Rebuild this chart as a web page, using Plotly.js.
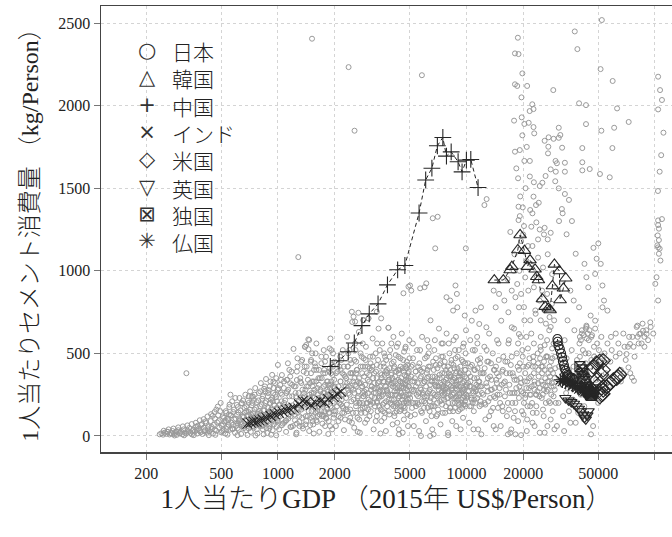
<!DOCTYPE html>
<html>
<head>
<meta charset="utf-8">
<script src="https://cdn.plot.ly/plotly-3.0.1.min.js"></script>
<style>html,body{margin:0;padding:0;background:#fff;}</style>
</head>
<body>
<div id="chart" style="width:672px;height:537px;"></div>
<script>
// ---- tick labels ----
const xTickVals = [200, 500, 1000, 2000, 5000, 10000, 20000, 50000, 100000];
const xTickText = ['200', '500', '1000', '2000', '5000', '10000', '20000', '50000', ''];
const yTickVals = [0, 500, 1000, 1500, 2000, 2500];

// ---- background: all countries/years, [GDP per capita, cement kg per capita] ----
const bgLowIncome = [
[236,10],[241,16],[246,8],[251,20],[256,13],[261,25],[266,9],[271,18],[276,30],[281,12],[286,22],[291,7],[296,35],[301,16],[306,27],[311,10],[316,40],[321,20],[326,14],[332,32],[338,48],[344,18],[350,9],[356,38],[362,26],[368,55],[374,15],[380,44],[386,30],[392,66],[398,12],[404,50],[410,35],[416,78],[422,20],[428,58],[434,28],[440,90],[446,42],[452,15],[458,68],[464,105],[470,32],[476,82],[482,125],[488,50],[494,150],[500,22],
[248,32],[263,40],[279,45],[296,52],[313,58],[331,64],[349,72],[367,80],[385,95],[404,102],[423,118],[442,132],[461,145],[480,178],[497,200],[471,160],[451,122],[413,88],[395,72],[375,62],[358,5],[318,4],[283,3],[430,5],[466,7],[327,380],
[258,26],[273,14],[289,28],[303,20],[336,24],[352,30],[371,35],[389,22],[408,28],[426,40],[445,55],[463,38],[485,90]
];
const bgLowerMiddle = [
[505,30],[512,72],[518,110],[526,15],[532,140],[538,55],[545,95],[552,175],[558,38],[565,125],[572,210],[578,68],[585,160],[592,20],[598,105],[605,188],[612,48],[618,142],[625,230],[632,82],[638,12],[645,198],[652,120],[658,60],[665,170],[672,250],[678,35],[685,98],[692,215],[698,145],[705,72],[712,270],[718,25],[725,185],[732,118],[738,238],[745,50],[752,160],[758,290],[765,90],[772,205],[778,15],[785,135],[792,260],[798,62],[805,180],[812,320],[818,108],[825,225],[832,40],[838,155],[845,285],[852,80],[858,200],[865,345],[872,125],[878,18],[885,240],[892,170],[898,60],[905,300],[912,105],[918,220],[925,145],[932,370],[938,35],[945,260],[952,190],[958,88],[965,320],[972,130],[978,235],[985,55],[992,170],[998,280],[1000,430],[1007,289],
[640,198],[728,238],[745,218],[892,278],[947,329],[1028,309],[1050,369],[540,8],[610,5],[690,6],[760,3],[840,10],[920,8],[980,4],[560,250],[700,200],[780,110],[860,270],[960,150],[620,90],[720,130],[820,60],[880,140],[940,210],
[530,90],[575,40],[615,75],[660,115],[700,45],[740,85],[790,70],[830,95],[870,48],[915,75],[955,120],[990,95],[550,130],[680,150],[810,140],[900,110],
[503,62],[509,118],[516,35],[521,88],[529,150],[535,42],[541,105],[548,68],[554,190],[561,125],[567,80],[574,45],[580,145],[587,100],[594,230],[600,62],[607,128],[613,175],[620,38],[627,95],[633,155],[640,72],[647,118],[653,215],[660,48],[667,140],[673,92],[680,180],[687,60],[693,125],[700,240],[707,85],[713,160],[720,110],[727,55],[733,200],[740,138],[747,78],[753,250],[760,120],[767,170],[773,40],[780,92],[787,215],[793,150],[800,75],[807,270],[813,130],[820,190],[827,100],[833,240],[840,65],[847,155],[853,300],[860,115],[867,210],[873,88],[880,175],[887,260],[893,135],[900,45],[907,200],[913,330],[920,160],[927,95],[933,230],[940,130],[947,290],[953,70],[960,185],[967,250],[973,115],[980,350],[987,210],[993,145],[999,90]
];
const bgMiddle = [
[1015,40],[1030,120],[1045,210],[1060,75],[1075,290],[1090,160],[1105,25],[1120,340],[1135,105],[1150,240],[1165,55],[1180,390],[1195,185],[1210,527],[1225,130],[1240,300],[1255,20],[1270,420],[1285,210],[1300,85],[1315,350],[1330,160],[1345,460],[1360,45],[1375,260],[1390,540],[1405,120],[1420,380],[1435,200],[1450,585],[1465,30],[1480,320],[1495,450],[1510,150],[1525,240],[1540,70],[1555,400],[1570,180],[1585,500],[1600,95],[1620,290],[1640,350],[1660,25],[1680,220],[1700,440],[1720,130],[1740,380],[1760,260],[1780,60],[1800,480],[1820,170],[1840,330],[1860,90],[1880,410],[1900,230],[1920,520],[1940,40],[1960,300],[1980,150],[2000,450],
[1116,339],[1162,319],[1261,339],[1314,329],[1370,390],[1420,420],[1500,460],[1395,540],[1466,581],[1413,551],[1453,525],[1050,250],[1150,180],[1250,240],[1350,280],[1450,300],[1550,260],[1650,310],[1750,200],[1850,250],[1950,370],[1100,90],[1200,60],[1300,120],[1400,70],[1500,110],[1600,200],[1700,150],[1800,110],[1900,180],[1250,10],[1550,15],[1850,12],[1130,440],[1270,470],[1600,560],[1750,520],[1900,590],
[1080,200],[1180,140],[1280,170],[1380,190],[1480,230],[1580,140],[1680,270],[1780,310],[1880,140],[1980,260],[1120,270],[1320,230],[1520,330],[1720,240],[1920,330],
[1008,110],[1022,190],[1036,260],[1050,65],[1064,150],[1078,330],[1092,215],[1106,95],[1120,175],[1134,280],[1148,130],[1162,360],[1176,55],[1190,240],[1204,165],[1218,300],[1232,95],[1246,200],[1260,390],[1274,140],[1288,260],[1302,60],[1316,185],[1330,320],[1344,110],[1358,230],[1372,170],[1386,420],[1400,280],[1414,90],[1428,210],[1442,340],[1456,150],[1470,250],[1484,65],[1498,380],[1512,190],[1526,300],[1540,120],[1554,230],[1568,440],[1582,165],[1596,330],[1610,85],[1624,250],[1638,180],[1652,400],[1666,130],[1680,280],[1694,210],[1708,350],[1722,75],[1736,190],[1750,300],[1764,150],[1778,450],[1792,240],[1806,105],[1820,330],[1834,200],[1848,270],[1862,140],[1876,390],[1890,60],[1904,220],[1918,310],[1932,170],[1946,430],[1960,250],[1974,110],[1988,340],
[1040,340],[1110,260],[1190,310],[1290,160],[1380,240],[1470,180],[1560,280],[1650,230],[1740,260],[1830,160],[1920,260],[1080,80],[1170,120],[1260,75],[1350,60],[1440,120],[1530,90],[1620,150],[1710,120],[1800,200],[1890,290],[1980,200],[1060,180],[1240,260],[1420,300],[1600,400],[1780,380],[1960,500],[1150,400],[1330,450],[1520,500],[1700,480],[1880,530],
[1510,260],[1590,200],[1670,350],[1750,120],[1830,280],[1910,380],[1990,130],[1550,330],[1700,190],[1860,310],[1620,120],[1800,240],[1580,420],[1760,400],[1960,420]
];
const bgUpperMiddle = [
[2030,60],[2060,180],[2090,300],[2120,420],[2150,110],[2180,250],[2210,520],[2240,35],[2270,360],[2300,160],[2330,600],[2360,280],[2390,90],[2420,460],[2450,210],[2480,690],[2510,330],[2540,50],[2570,560],[2600,140],[2630,400],[2660,240],[2690,630],[2720,20],[2750,320],[2780,480],[2810,170],[2840,700],[2870,270],[2900,80],[2930,540],[2960,380],[2990,200],[3020,712],[3060,120],[3100,440],[3140,300],[3180,590],[3220,40],[3260,230],[3300,500],[3340,350],[3380,150],[3420,650],[3460,270],[3500,420],[3540,90],[3580,560],[3620,330],[3660,200],[3700,480],[3740,30],[3780,380],[3820,260],[3860,655],[3900,130],[3940,520],[3980,310],[4020,440],[4060,70],[4100,600],[4140,220],[4180,360],[4220,490],[4260,150],[4300,270],[4340,560],[4380,40],[4420,400],[4460,330],[4500,180],[4540,620],[4580,240],[4620,460],[4660,100],[4700,370],[4740,530],[4780,290],[4820,200],[4860,430],[4900,60],[4940,350],[4980,580],
[2467,752],[2673,746],[2519,722],[2568,692],[2842,702],[3025,712],[3349,752],[3530,712],[3858,655],[4634,864],[4928,904],[2200,380],[2400,330],[2600,450],[2800,380],[3000,260],[3200,350],[3400,460],[3600,250],[3800,180],[4000,380],[4200,290],[4400,240],[4600,320],[4800,410],[2300,230],[2500,140],[2700,100],[2900,310],[3100,190],[3300,90],[3500,280],[3700,140],[3900,410],[4100,180],[4300,80],[4500,290],[4700,150],[4900,250],[2100,240],[2250,140],[2550,260],[2850,240],[3150,400],[3450,330],[3750,300],[4050,250],[4350,340],[4650,390],[4950,200],[4390,10],[4590,20],[3500,15],[2650,25],
[2150,330],[2350,420],[2450,380],[2750,420],[3050,330],[3250,290],[3550,370],[3850,340],[4150,420],[4450,270],[4750,310],[2800,200],[3350,210],[3650,420],[4250,200],[4850,330],
[2020,150],[2045,280],[2070,390],[2095,90],[2120,200],[2145,330],[2170,460],[2195,140],[2220,250],[2245,370],[2270,100],[2295,300],[2320,190],[2345,420],[2370,260],[2395,520],[2420,160],[2445,290],[2470,80],[2495,380],[2520,220],[2545,460],[2570,310],[2595,180],[2620,400],[2645,110],[2670,270],[2695,350],[2720,200],[2745,500],[2770,140],[2795,300],[2820,420],[2845,240],[2870,360],[2895,170],[2920,460],[2945,280],[2970,100],[2995,340],[3030,220],[3070,410],[3110,150],[3150,300],[3190,480],[3230,260],[3270,180],[3310,390],[3350,120],[3390,320],[3430,230],[3470,520],[3510,160],[3550,350],[3590,270],[3630,440],[3670,110],[3710,300],[3750,210],[3790,400],[3830,330],[3870,150],[3910,480],[3950,250],[3990,370],[4030,190],[4070,300],[4110,450],[4150,120],[4190,330],[4230,250],[4270,540],[4310,190],[4350,400],[4390,300],[4430,150],[4470,470],[4510,350],[4550,220],[4590,410],[4630,290],[4670,510],[4710,170],[4750,320],[4790,250],[4830,450],[4870,130],[4910,380],[4950,300],[4990,470],
[2050,220],[2150,400],[2250,300],[2350,150],[2450,440],[2550,350],[2650,230],[2750,160],[2850,470],[2950,200],[3050,370],[3150,240],[3250,320],[3350,430],[3450,180],[3550,240],[3650,330],[3750,460],[3850,250],[3950,200],[4050,350],[4150,270],[4250,390],[4350,230],[4450,330],[4550,300],[4650,200],[4750,420],[4850,280],[4950,390],[2100,120],[2400,250],[2700,320],[3000,420],[3300,260],[3600,190],[3900,340],[4200,180],[4500,260],[4800,340],[2200,180],[2600,300],[3200,200],[3800,270],[4400,200],[4900,220],[2300,350],[2900,250],[3500,380],[4100,320],[4700,240],
[2080,270],[2160,190],[2240,420],[2330,320],[2420,110],[2510,280],[2600,380],[2700,200],[2800,300],[2900,420],[3010,160],[3120,280],[3240,380],[3360,200],[3480,300],[3610,150],[3740,390],[3880,220],[4020,320],[4170,140],[4320,290],[4480,420],[4640,180],[4810,360],[4990,250],
[2030,380],[2220,170],[2420,380],[2650,330],[2900,140],[3170,420],[3460,240],[3780,280],[4130,410],[4510,160],[4930,300],
[2000,300],[2180,220],[2380,300],[2600,200],[2830,260],[3090,210],[3370,290],[3680,370],[4010,220],[4380,380],[4780,210],
[2140,480],[2360,500],[2580,520],[2820,560],[3080,480],[3360,560],[3660,500],[4000,560],[4360,480],[4760,540]
];
const bgHighMiddle = [
[5050,120],[5120,280],[5190,430],[5260,60],[5330,350],[5400,180],[5470,520],[5540,240],[5610,30],[5680,400],[5750,150],[5820,600],[5890,320],[5960,210],[6030,470],[6100,90],[6170,380],[6240,260],[6310,540],[6380,150],[6450,700],[6520,330],[6590,40],[6660,450],[6730,220],[6800,580],[6870,300],[6940,120],[7010,410],[7080,250],[7150,650],[7220,350],[7290,70],[7360,480],[7430,190],[7500,560],[7570,290],[7640,420],[7710,140],[7780,340],[7850,620],[7920,230],[7990,20],[8060,380],[8130,500],[8200,170],[8270,300],[8340,440],[8410,90],[8480,250],[8550,580],[8620,350],[8690,200],[8760,470],[8830,60],[8900,310],[8970,410],[9040,150],[9110,520],[9180,260],[9250,380],[9320,40],[9390,200],[9460,460],[9530,320],[9600,110],[9670,560],[9740,240],[9810,400],[9880,180],[9950,640],[10050,300],[10200,440],[10350,80],[10500,360],[10650,220],[10800,520],[10950,150],[11100,400],[11250,280],[11400,600],[11550,40],[11700,330],[11850,470],[12000,190],[12150,380],[12300,250],[12450,540],[12600,100],[12750,320],[12900,450],[13050,210],[13200,620],[13350,360],[13500,150],[13650,280],[13800,500],[13950,60],[14100,400],[14250,230],[14400,340],[14550,580],[14700,170],[14850,460],[15000,290],
[5500,200],[6000,240],[6500,180],[7000,300],[7500,250],[8000,270],[8500,150],[9000,220],[9500,280],[10000,250],[11000,220],[12000,300],[13000,270],[14000,240],[5300,330],[5800,390],[6300,420],[6800,360],[7300,440],[7800,400],[8300,360],[8800,380],[9300,340],[9800,360],[10500,420],[11500,460],[12500,410],[13500,440],[14500,380],
[5740,0],[6420,0],[6700,10],[10900,40],[14300,40],[8000,5],[12000,10],
[5023,911],[6000,901],[5100,880],[8750,911],[8900,860],[7840,840],[8200,820],[8500,759],[8950,779],[9800,729],[10680,698],[11170,759],[11950,779],[11700,678],[12760,658],[5685,894],[6125,924],[6833,1136],[9930,1136],[6630,1318],[7040,1327],[12800,1434],[12460,1398],[13950,880],[14900,860],[14300,779],
[1517,2405],[2371,2233],[5806,2184],[2550,1848],[1283,1083],
[5030,230],[5090,360],[5150,170],[5210,470],[5270,280],[5330,130],[5390,390],[5450,250],[5510,320],[5570,190],[5630,440],[5690,290],[5750,360],[5810,140],[5870,250],[5930,410],[5990,330],[6050,200],[6110,300],[6170,480],[6230,170],[6290,360],[6350,270],[6410,420],[6470,230],[6530,120],[6590,330],[6650,260],[6710,400],[6770,180],[6830,310],[6890,470],[6950,240],[7010,350],[7070,160],[7130,280],[7190,430],[7250,210],[7310,320],[7370,260],[7430,380],[7490,140],[7550,300],[7610,220],[7670,450],[7730,280],[7790,180],[7850,350],[7910,260],[7970,420],[8030,200],[8090,310],[8150,150],[8210,370],[8270,240],[8330,460],[8390,290],[8450,200],[8510,340],[8570,260],[8630,410],[8690,170],[8750,310],[8810,230],[8870,390],[8930,280],[8990,480],[9050,200],[9110,340],[9170,250],[9230,160],[9290,420],[9350,300],[9410,220],[9470,370],[9530,270],[9590,450],[9650,190],[9710,330],[9770,280],[9830,210],[9890,400],[9950,310],[10100,240],[10250,380],[10400,180],[10550,300],[10700,430],[10850,260],[11000,350],[11150,200],[11300,310],[11450,410],[11600,250],[11750,180],[11900,380],
[5200,200],[5600,260],[6000,330],[6400,210],[6800,250],[7200,370],[7600,330],[8000,230],[8400,330],[8800,290],[9200,380],[9600,230],[10000,350],[10400,300],[10800,200],[11200,270],[11600,330],[5400,300],[5800,210],[6200,240],[6600,360],[7000,200],[7400,310],[7800,290],[8200,400],[8600,230],[9000,300],[9400,260],[9800,190],[10200,270],[10600,230],[11000,290],[11400,350],[11800,300],[5100,420],[6300,500],[7500,480],[8700,520],[9900,500],[11100,520],
[5170,330],[5360,200],[5550,420],[5750,280],[5960,170],[6180,350],[6400,280],[6640,180],[6880,430],[7130,300],[7390,220],[7660,380],[7940,320],[8230,170],[8530,430],[8840,240],[9160,360],[9500,170],[9850,440],[10200,320],[10600,180],[11000,400],[11400,230],[11800,440],
[5380,390],[5880,260],[6420,310],[7010,130],[7660,260],[8370,280],[9140,190],[9990,230],[10900,270],[11900,210],
[5220,270],[5700,350],[6220,400],[6790,330],[7410,270],[8090,360],[8830,330],[9640,290],[10500,330],[11500,300],
[5200,560],[5680,520],[6200,580],[6760,520],[7380,560],[8060,560],[8800,600],[9600,540],[10480,580],[11440,560]
];
const bgHigh = [
[15200,60],[15500,180],[15800,320],[16100,450],[16400,120],[16700,560],[17000,260],[17300,40],[17600,380],[17900,650],[18200,200],[18500,500],[18800,90],[19100,300],[19400,600],[19700,150],[20000,420],[20300,700],[20600,250],[20900,30],[21200,530],[21500,350],[21800,180],[22100,620],[22400,80],[22700,450],[23000,280],[23300,740],[23600,140],[23900,500],[24200,360],[24500,20],[24800,600],[25100,230],[25400,420],[25700,120],[26000,550],[26300,300],[26600,480],[26900,60],[27200,380],[27500,640],[27800,200],[28100,450],[28400,320],[28700,150],[29000,560],[29300,40],[29600,410],
[15600,400],[16200,280],[16800,160],[17400,480],[18000,340],[18600,260],[19200,440],[19800,520],[20400,330],[21000,420],[21600,470],[22200,300],[22800,380],[23400,250],[24000,320],[24600,470],[25200,380],[25800,280],[26400,200],[27000,330],[27600,420],[28200,250],[28800,380],[29400,280],[16600,10],[17100,20],[18200,10],[19500,5],[21000,100],[23000,60],[26000,20],
[15900,820],[16700,749],[17400,880],[18200,840],[19000,779],[15300,698],[17400,658],[19000,617],[16500,950],[17800,1000],[18600,920],[19500,860],[20500,960],[21300,880],[22000,1040],[22800,900],[23600,960],[24400,820],[25200,880],[26000,760],[26800,860],[27600,720],[28400,800],[29200,700],[20200,780],[21800,700],[23200,760],[24800,700],[26400,680],[28000,660],[18000,1100],[19500,1180],[20800,1060],[22400,1150],[24000,1080],[25500,1020],[27000,1100],[28500,980],[29500,900],
[18750,2411],[18100,2316],[18900,2312],[19810,2195],[18100,2129],[18600,2119],[21000,2119],[28900,2094],[22360,2008],[21660,1967],[22700,1979],[17900,1909],[19650,1929],[20300,1889],[21400,1896],[22700,1870],[19800,1820],[22900,1832],[30900,1866],[26000,1787],[27300,1808],[29000,1799],[30900,1805],[31500,1822],[27200,1751],[27100,1711],[32200,1745],[18100,1721],[19200,1731],[20300,1665],[21700,1665],[29700,1665],[30200,1651],[33300,1654],[18800,1560],[21700,1571],[22800,1536],[26300,1574],[25300,1533],[24500,1513],[28000,1614],[29800,1600],[33300,1600],[29600,1542],[30900,1499],[33300,1465],[35000,1429],[22700,1449],[24200,1412],[23400,1398],[18900,1388],[19900,1384],[21800,1368],[22400,1348],[32100,1374],[32400,1348],[36300,1301],[31000,1301],[18900,1307],[19200,1331],[20200,1271],[22100,1267],[23500,1293],[17100,1235],[34000,1221],[50100,1166],[24500,1250],[25800,1220],[27000,1190],[26000,1260],[28000,1230],[24000,1190],
[19300,1450],[20600,1500],[18400,1620],[20900,1750],[19100,1000],[20000,1220],[21200,1150],[19600,2050],
[12100,260],[12350,380],[12600,190],[12850,300],[13100,450],[13350,230],[13600,340],[13850,170],[14100,290],[14350,420],[14600,250],[14850,360],[15100,200],[15400,310],[15700,480],[16000,240],[16300,380],[16600,200],[16900,310],[17200,430],[17500,260],[17800,360],[18100,150],[18400,290],[18700,420],[19000,230],[19300,350],[19600,270],[19900,480],[20200,200],[20500,380],[20800,290],[21100,180],[21400,430],[21700,250],[22000,360],[22300,200],[22600,480],[22900,310],[23200,420],[23500,180],[23800,270],[24100,400],[24400,240],[24700,540],[25000,330],[25400,250],[25800,450],[26200,350],[26600,270],[27000,480],[27400,210],[27800,360],[28200,300],[28600,470],[29000,240],[29400,350],[29800,200],
[12500,200],[13000,350],[13500,280],[14000,400],[14500,320],[15000,250],[15500,390],[16000,330],[16500,450],[17000,380],[17500,200],[18000,260],[18500,340],[19000,400],[19500,320],[20000,260],[20500,230],[21000,330],[21500,290],[22000,250],[22500,420],[23000,330],[23500,250],[24000,440],[24500,290],[25000,420],[25500,310],[26000,400],[26500,480],[27000,280],[27500,330],[28000,400],[28500,530],[29000,300],[29500,480],[12800,520],[14800,560],[16800,580],[18800,560],[20800,600],[22800,560],[24800,520],[26800,580],[13200,120],[15600,150],[17800,110],[20100,130],[22500,140],[25500,160],[28000,100]
];
const bgRich = [
[30200,60],[30800,200],[31400,330],[32000,470],[32600,120],[33200,580],[33800,260],[34400,700],[35000,400],[35600,80],[36200,520],[36800,220],[37400,640],[38000,300],[38600,460],[39200,140],[39800,560],[40400,250],[41000,620],[41600,380],[42200,180],[42800,500],[43400,660],[44000,300],[44600,580],[45200,420],[45800,10],[46400,610],[47000,230],[47600,480],[48200,650],[48800,340],[49400,560],[50000,200],[51000,430],[52000,600],[53000,280],[54000,500],[55000,380],[56000,560],[57000,300],[58000,450],[59000,520],[60000,360],[62000,480],[64000,560],[66000,400],[68000,620],[70000,460],[72000,540],[74000,380],[76000,600],[78000,480],[80000,660],[82000,560],[84000,620],[86000,680],[88000,600],[90000,640],[92000,580],[95000,660],[98000,620],
[40000,600],[41000,640],[42000,610],[43000,650],[44000,620],[45000,640],[46000,600],[40500,580],[43500,590],
[38000,1103],[42300,1042],[43300,961],[47200,1139],[49100,1073],[48200,981],[44300,900],[51600,1042],[52700,911],[53700,820],[35600,880],[37100,820],[39600,779],[45600,729],[48200,698],[43300,668],[52700,779],[56000,759],
[80800,668],[82600,617],[86500,637],[90400,617],[94500,688],[73800,557],[70700,496],[72400,415],[75600,354],[77400,334],[68000,380],[66000,330],[85000,560],[88000,540],
[37580,2449],[38790,2342],[52300,2518],[51500,2221],[59700,2149],[39600,2014],[43100,2003],[63000,1983],[72600,1901],[43100,1888],[52000,1848],[60800,1866],[41200,1743],[59500,1743],[41200,1657],[41200,1608],[45100,1616],[51100,1586],[57600,1566],
[104000,2175],[106500,2094],[109000,2034],[104000,1977],[111000,1836],[103800,1483],[109000,1313],[104000,1277],[105000,1186],[104000,1142],[104000,1305],[105000,1255],[103500,1214],[103000,1154],[106000,1134],[105000,1103],[107000,1062],[102000,961],[100500,921],[104000,820],[106000,1600],[108000,1700],
[35000,150],[38000,80],[42000,100],[47000,60],[33000,30],
[31000,420],[32500,350],[34000,470],[35500,300],[37000,420],[38500,370],[40000,480],[41500,520],[43000,440],[44500,500],[46000,460],[47500,540],[49000,470],[50500,520],[52500,480],[55500,460],[58500,600],[62000,620],[65000,500],[69000,540],[73000,600],[77000,540],[81000,600]
];

// ---- highlighted countries ----
const countries = ['日本', '韓国', '中国', 'インド', '米国', '英国', '独国', '仏国'];
const japanGdp = [30400,30500,30800,31300,31800,32200,32500,32900,33200,33600,34000,34500,34800,35300,35800,36300,36800,37200];
const japanVal = [587,570,548,526,500,476,452,430,410,395,380,370,362,355,348,352,344,340];
const koreaGdp = [14060,15700,17060,17420,18740,19270,20320,21060,21760,23140,23620,24100,25300,26140,27200,27800,28590,29300,31130,31420,32690,33640];
const koreaVal = [944,944,1005,1025,1126,1217,1122,1025,1065,1009,964,944,829,783,773,763,908,1039,999,823,894,955];
const chinaGdp = [1897,2110,2361,2543,2792,3052,3399,3813,4317,4717,5610,6081,6560,7014,7499,7838,8303,9035,9484,10000,10550,11530];
const chinaVal = [421,455,510,563,668,739,800,915,1006,1032,1350,1550,1621,1757,1807,1694,1720,1660,1599,1670,1674,1504];
const indiaGdp = [689,717,743,769,798,830,868,915,962,1013,1059,1108,1158,1211,1294,1353,1415,1499,1582,1690,1768,1847,1974,2063,2159];
const indiaVal = [75,81,87,87,95,101,111,121,132,140,148,156,162,172,192,212,206,188,202,212,202,223,237,253,269];
const usGdp = [46200,47100,49000,51000,53200,53200,52000,49100,51100,52200,53200,52200,51100,53000,55500,57800,60200,62700,63900,65000];
const usVal = [400,419,440,452,456,400,370,339,319,290,278,250,238,255,298,319,339,349,359,372];
const ukGdp = [33500,34800,36000,37200,38300,39500,40500,41500,42300,43000,43800,44500];
const ukVal = [230,215,205,195,180,165,150,130,110,100,125,150];
const germanyGdp = [40000,41000,41500,42000,42500,43000,43500,44000,44500,45000,45500,46000,46500,47000,47500];
const germanyVal = [420,400,380,350,330,310,295,280,270,260,250,245,255,265,280];
const franceGdp = [31500,32300,33000,33600,34300,35000,35800,36500,37300,38000,38800,39500,40300,41000,41800,42500,43300,44000];
const franceVal = [340,330,345,322,335,315,325,305,318,300,296,285,292,280,275,268,272,262];

// legend glyphs (text) matching each marker symbol
const legendGlyphs = ['○', '△', '+', '×', '◇', '▽', '⊠', '✳'];

const symbols = ['circle-open','triangle-up-open','cross-thin-open','x-thin-open','diamond-open','triangle-down-open','square-x-open','asterisk-open'];
const sizes = [9, 11, 12, 10, 11, 10, 10, 11];
const series = [[japanGdp,japanVal],[koreaGdp,koreaVal],[chinaGdp,chinaVal],[indiaGdp,indiaVal],[usGdp,usVal],[ukGdp,ukVal],[germanyGdp,germanyVal],[franceGdp,franceVal]];

const bgAll = [].concat(bgLowIncome, bgLowerMiddle, bgMiddle, bgUpperMiddle, bgHighMiddle, bgHigh, bgRich);

const traces = [{
  type: 'scatter', mode: 'markers', showlegend: false, hoverinfo: 'skip',
  x: bgAll.map(p => p[0]), y: bgAll.map(p => p[1]),
  marker: {symbol: 'circle-open', size: 5, color: '#9a9a9a', line: {width: 1, color: '#9a9a9a'}}
}];
series.forEach((s, i) => {
  traces.push({
    type: 'scatter', mode: 'lines', showlegend: false, hoverinfo: 'skip',
    x: s[0], y: s[1], line: {color: '#222', width: 1, dash: '4px,3px'}
  });
});
series.forEach((s, i) => {
  traces.push({
    type: 'scatter', mode: 'markers', name: countries[i], showlegend: false,
    x: s[0], y: s[1],
    marker: {symbol: symbols[i], size: sizes[i], color: '#262626', line: {width: 1.1, color: '#262626'}}
  });
});

// legend as two multi-line annotations (symbol column + name column)
const legendTopY = 0.937;
const annotations = [
  {
    xref: 'paper', yref: 'paper', x: 0.0806, y: legendTopY - 0.004, xanchor: 'center', yanchor: 'top',
    align: 'center', showarrow: false,
    text: legendGlyphs.join('<br>'),
    font: {family: 'DejaVu Sans, sans-serif', size: 21, color: '#333'}
  },
  {
    xref: 'paper', yref: 'paper', x: 0.121, y: legendTopY, xanchor: 'left', yanchor: 'top',
    align: 'left', showarrow: false,
    text: countries.join('<br>'),
    font: {family: 'Noto Sans CJK JP, sans-serif', size: 21, color: '#222', weight: 300}
  }
];

const numFont = {family: 'Liberation Serif, serif', size: 16, color: '#222'};
const xTitleFont = {family: 'Liberation Serif, Noto Sans CJK JP, serif', size: 27, color: '#222', weight: 300};
const yTitleFont = {family: 'Liberation Serif, Noto Sans CJK JP, serif', size: 24, color: '#222', weight: 300};

const layout = {
  width: 672, height: 537,
  margin: {l: 101, r: 0, t: 6, b: 85},
  paper_bgcolor: '#fff', plot_bgcolor: '#fff',
  showlegend: false,
  annotations: annotations,
  xaxis: {
    type: 'log', range: [2.0615, 5.0907],
    tickvals: xTickVals, ticktext: xTickText,
    ticks: 'outside', ticklen: 6, tickcolor: '#777', tickwidth: 1,
    showline: true, linecolor: '#444', linewidth: 1.5, mirror: true,
    showgrid: true, gridcolor: '#d4d4d4', griddash: '3px,3px', gridwidth: 1,
    zeroline: false, tickfont: numFont,
    title: {text: '1人当たりGDP （2015年 US$/Person）', font: xTitleFont, standoff: 8}
  },
  yaxis: {
    range: [-97, 2603],
    tickvals: yTickVals,
    ticks: 'outside', ticklen: 6, tickcolor: '#777', tickwidth: 1,
    showline: true, linecolor: '#444', linewidth: 1.5, mirror: false,
    showgrid: true, gridcolor: '#d4d4d4', griddash: '3px,3px', gridwidth: 1,
    zeroline: false, tickfont: numFont,
    title: {text: '1人当たりセメント消費量 （kg/Person）', font: yTitleFont, standoff: 13}
  }
};

Plotly.newPlot('chart', traces, layout, {displayModeBar: false, staticPlot: true});
</script>
</body>
</html>
